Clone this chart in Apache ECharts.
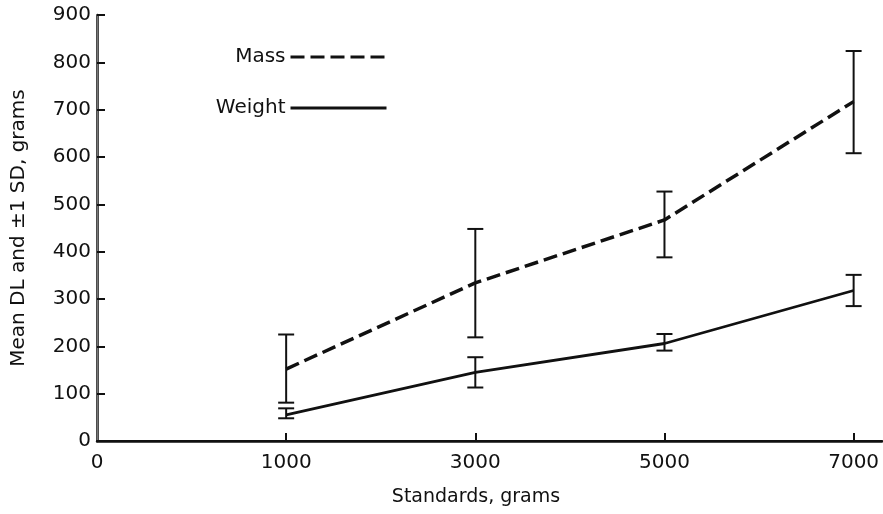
<!DOCTYPE html>
<html>
<head>
<meta charset="utf-8">
<script src="https://cdn.jsdelivr.net/npm/echarts@6/dist/echarts.min.js"></script>
<style>
  html, body { margin: 0; padding: 0; background: #fff; }
  #chart { width: 883px; height: 514px; }
</style>
</head>
<body>
<div id="chart"></div>
<script>
// tick labels of the x axis (evenly spaced, not to scale)
const tickLabels = ['0', '1000', '3000', '5000', '7000'];
// position of each standard on the axis (index into tickLabels)
const standards = [1, 2, 3, 4];

// Mass: mean and +/- 1 SD
const massMean = [152, 334, 467, 717];
const massLow = [81, 219, 388, 608];
const massHigh = [225, 448, 527, 824];

// Weight: mean and +/- 1 SD
const weightMean = [55, 145, 206, 318];
const weightLow = [48, 113, 191, 285];
const weightHigh = [69, 177, 226, 351];

const chart = echarts.init(document.getElementById('chart'));
const font = 'DejaVu Sans';

const toPoints = ys => standards.map((x, i) => [x, ys[i]]);
const toBars = (lo, hi) => standards.map((x, i) => [x, lo[i], hi[i]]);

// vertical bar with caps
function errorBar(params, api) {
  const top = api.coord([api.value(0), api.value(2)]);
  const bot = api.coord([api.value(0), api.value(1)]);
  const w = 8;
  const style = { stroke: '#111', lineWidth: 2 };
  return {
    type: 'group',
    children: [
      { type: 'line', shape: { x1: top[0], y1: top[1], x2: bot[0], y2: bot[1] }, style },
      { type: 'line', shape: { x1: top[0] - w, y1: top[1], x2: top[0] + w, y2: top[1] }, style },
      { type: 'line', shape: { x1: bot[0] - w, y1: bot[1], x2: bot[0] + w, y2: bot[1] }, style }
    ]
  };
}

const legendBase = {
  orient: 'vertical',
  right: 495,
  padding: 0,
  align: 'right',
  itemWidth: 96,
  itemHeight: 14,
  selectedMode: false,
  itemStyle: { opacity: 0 },
  lineStyle: { width: 3 },
  textStyle: { fontFamily: font, fontSize: 20, color: '#111' }
};

const option = {
  backgroundColor: '#fff',
  animation: false,
  legend: [
    Object.assign({}, legendBase, { top: 47, data: ['Mass'] }),
    Object.assign({}, legendBase, { top: 98, data: ['Weight'] })
  ],
  grid: { left: 97, right: 1, top: 15, bottom: 73 },
  xAxis: [
    {
      type: 'value',
      min: 0,
      max: 4.15,
      interval: 1,
      name: 'Standards, grams',
      nameLocation: 'middle',
      nameGap: 47,
      nameTextStyle: { fontFamily: font, fontSize: 19, color: '#111', padding: [0, 27, 0, 0] },
      axisLine: { lineStyle: { color: '#111', width: 2.5 } },
      axisTick: { inside: true, length: 8, customValues: [1, 2, 3, 4], lineStyle: { color: '#111', width: 2 } },
      axisLabel: {
        customValues: [0, 1, 2, 3, 4],
        formatter: v => tickLabels[Math.round(v)] || '',
        margin: 12,
        fontFamily: font,
        fontSize: 20,
        color: '#111'
      },
      splitLine: { show: false }
    },
    {
      type: 'value',
      position: 'top',
      min: 0,
      max: 4.15,
      axisLine: { show: true, lineStyle: { color: '#111', width: 2 } },
      axisTick: { show: false },
      axisLabel: { show: false },
      splitLine: { show: false }
    }
  ],
  yAxis: [
    {
      type: 'value',
      min: 0,
      max: 900,
      interval: 100,
      name: 'Mean DL and \u00b11 SD, grams',
      nameLocation: 'middle',
      nameGap: 68,
      nameTextStyle: { fontFamily: font, fontSize: 20, color: '#111' },
      axisLine: { show: true, lineStyle: { color: '#111', width: 2.5 } },
      axisTick: { show: true, inside: true, length: 8, lineStyle: { color: '#111', width: 2 } },
      axisLabel: { margin: 6, fontFamily: font, fontSize: 20, color: '#111' },
      splitLine: { show: false }
    },
    {
      type: 'value',
      position: 'right',
      min: 0,
      max: 900,
      axisLine: { show: true, lineStyle: { color: '#777', width: 1 } },
      axisTick: { show: false },
      axisLabel: { show: false },
      splitLine: { show: false }
    }
  ],
  series: [
    {
      name: 'Mass',
      type: 'line',
      data: toPoints(massMean),
      symbol: 'none',
      color: '#111',
      lineStyle: { color: '#111', width: 3.5, type: [14, 6] }
    },
    {
      name: 'Weight',
      type: 'line',
      data: toPoints(weightMean),
      symbol: 'none',
      color: '#111',
      lineStyle: { color: '#111', width: 2.8, type: 'solid' }
    },
    {
      name: 'Mass SD',
      type: 'custom',
      renderItem: errorBar,
      data: toBars(massLow, massHigh),
      encode: { x: 0, y: [1, 2] },
      z: 3
    },
    {
      name: 'Weight SD',
      type: 'custom',
      renderItem: errorBar,
      data: toBars(weightLow, weightHigh),
      encode: { x: 0, y: [1, 2] },
      z: 3
    }
  ]
};

chart.setOption(option);
</script>
</body>
</html>
